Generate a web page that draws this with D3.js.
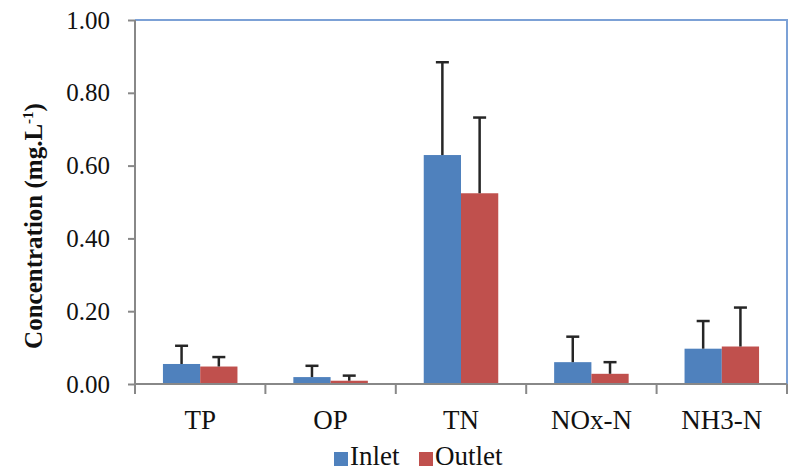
<!DOCTYPE html>
<html>
<head>
<meta charset="utf-8">
<script src="https://cdn.jsdelivr.net/npm/d3@7"></script>
<style>
  html, body { margin: 0; padding: 0; background: #fff; overflow: hidden; }
  svg { display: block; }
</style>
</head>
<body>
<div id="chart"></div>
<script>
const categories = ["TP", "OP", "TN", "NOx-N", "NH3-N"]
const seriesNames = ["Inlet", "Outlet"]
const inlet = [0.055, 0.019, 0.629, 0.060, 0.097]
const inletErr = [0.050, 0.031, 0.255, 0.070, 0.076]
const outlet = [0.048, 0.009, 0.524, 0.028, 0.103]
const outletErr = [0.026, 0.014, 0.208, 0.032, 0.107]
const yTicks = [0, 0.2, 0.4, 0.6, 0.8, 1.0]

const colors = { Inlet: "#4f81bd", Outlet: "#c0504d" }
const serif = "\"Liberation Serif\""

const width = 788
const height = 474
const margin = { top: 20, right: 1, bottom: 90, left: 135 }
const innerWidth = width - margin.left - margin.right
const innerHeight = height - margin.top - margin.bottom

const svg = d3.select("#chart")
  .append("svg")
  .attr("width", width)
  .attr("height", height)

const g = svg.append("g")
  .attr("transform", `translate(${margin.left}, ${margin.top})`)

const x = d3.scaleBand()
  .domain(categories)
  .range([0, innerWidth])

// Excel-style gap width of 150%
const barW = x.bandwidth() / 3.5
const xSub = d3.scaleBand()
  .domain(seriesNames)
  .range([(x.bandwidth() - 2 * barW) / 2, (x.bandwidth() + 2 * barW) / 2])

const y = d3.scaleLinear()
  .domain([0, 1])
  .range([innerHeight, 0])

// plot border (top and right)
g.append("path")
  .attr("d", `M0,0H${innerWidth}V${innerHeight}`)
  .attr("fill", "none")
  .attr("stroke", "#7ca1d6")
  .attr("stroke-width", 2)

// bars
const rows = categories.map((c, i) => [
  { cat: c, name: "Inlet", val: inlet[i], err: inletErr[i] },
  { cat: c, name: "Outlet", val: outlet[i], err: outletErr[i] },
]).flat()

g.selectAll("rect.bar")
  .data(rows)
  .join("rect")
  .attr("class", "bar")
  .attr("x", (d) => x(d.cat) + xSub(d.name))
  .attr("y", (d) => y(d.val))
  .attr("width", xSub.bandwidth())
  .attr("height", (d) => y(0) - y(d.val))
  .attr("fill", (d) => colors[d.name])

// error bars (plus direction only)
const errG = g.selectAll("g.err")
  .data(rows)
  .join("g")
  .attr("class", "err")
  .attr("transform", (d) => `translate(${x(d.cat) + xSub(d.name) + xSub.bandwidth() / 2}, 0)`)

errG.append("line")
  .attr("y1", (d) => y(d.val))
  .attr("y2", (d) => y(d.val + d.err))
  .attr("stroke", "#262626")
  .attr("stroke-width", 2.5)

errG.append("line")
  .attr("x1", -6.5)
  .attr("x2", 6.5)
  .attr("y1", (d) => y(d.val + d.err))
  .attr("y2", (d) => y(d.val + d.err))
  .attr("stroke", "#262626")
  .attr("stroke-width", 2.5)

// y axis
const yAxis = g.append("g")
  .call(d3.axisLeft(y).tickValues(yTicks).tickFormat(d3.format(".2f")).tickSize(7).tickPadding(18))

yAxis.select(".domain")
  .attr("d", `M0,0V${innerHeight + 10}`)
  .attr("stroke", "#888")
  .attr("stroke-width", 2)
yAxis.selectAll(".tick line").attr("stroke", "#888").attr("stroke-width", 2)
yAxis.selectAll(".tick text")
  .style("font-family", serif)
  .style("font-size", "25px")
  .attr("fill", "#111")

// x axis
const xAxis = g.append("g")
  .attr("transform", `translate(0, ${innerHeight})`)

xAxis.append("line")
  .attr("x1", 0)
  .attr("x2", innerWidth)
  .attr("stroke", "#888")
  .attr("stroke-width", 2)

xAxis.selectAll("line.tick")
  .data(categories)
  .join("line")
  .attr("class", "tick")
  .attr("x1", (d) => x(d) + x.bandwidth())
  .attr("x2", (d) => x(d) + x.bandwidth())
  .attr("y1", 0)
  .attr("y2", 10)
  .attr("stroke", "#888")
  .attr("stroke-width", 2)

xAxis.selectAll("text")
  .data(categories)
  .join("text")
  .attr("x", (d) => x(d) + x.bandwidth() / 2)
  .attr("y", 45)
  .attr("text-anchor", "middle")
  .style("font-family", serif)
  .style("font-size", "27px")
  .attr("fill", "#111")
  .text((d) => d)

// y title
const yTitle = svg.append("text")
  .attr("transform", "translate(42, 226) rotate(-90)")
  .attr("text-anchor", "middle")
  .style("font-family", serif)
  .style("font-size", "25px")
  .style("font-weight", "bold")
  .attr("fill", "#111")

yTitle.append("tspan").text("Concentration (mg.L")
yTitle.append("tspan").style("font-size", "15px").attr("dy", -9).text("-1")
yTitle.append("tspan").attr("dy", 9).text(")")

// legend
const legend = svg.append("g")
  .attr("transform", "translate(334, 0)")

const legendItems = [
  { name: "Inlet", x: 0 },
  { name: "Outlet", x: 85 },
]

legendItems.forEach((item) => {
  legend.append("rect")
    .attr("x", item.x)
    .attr("y", 452)
    .attr("width", 14)
    .attr("height", 14)
    .attr("fill", colors[item.name])
  legend.append("text")
    .attr("x", item.x + 16)
    .attr("y", 465)
    .style("font-family", serif)
    .style("font-size", "27px")
    .attr("fill", "#111")
    .text(item.name)
})
</script>
</body>
</html>
